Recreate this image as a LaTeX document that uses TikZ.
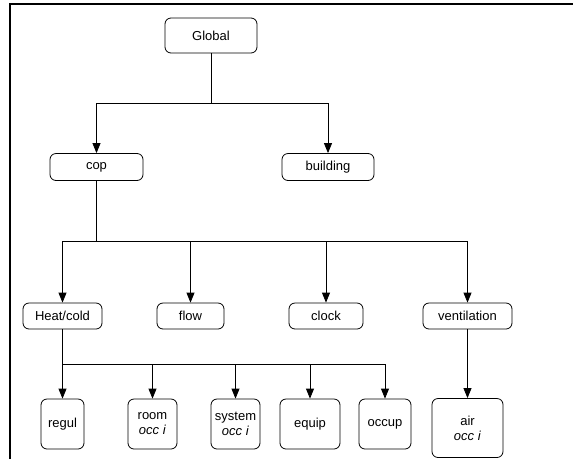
\documentclass[tikz,border=0pt]{standalone}
\usepackage{fontspec}
\setmainfont{Liberation Sans}
\usetikzlibrary{arrows.meta,positioning}

\tikzset{
  box/.style={draw, rounded corners=6pt, inner sep=0pt, align=center,
              font=\fontsize{13}{15}\selectfont, line width=0.8pt},
  link/.style={line width=0.8pt},
  arr/.style={link, -{Triangle[width=8pt,length=10pt]}}
}

\begin{document}
\begin{tikzpicture}[x=1pt,y=-1pt]
            \useasboundingbox (0,0) rectangle (573,459);
            % frame
            \draw [line width=2pt] (10,459) -- (10,4) -- (573,4);
            % top levels
            \node[box, minimum width=92pt, minimum height=35pt] (global)   at (211,35.5) {Global};
            \node[box, minimum width=93pt, minimum height=27pt] (cop)      at (96.5,167) {cop};
            \node[box, minimum width=92pt, minimum height=27pt] (building) at (328,167)  {building};
            % second level
            \node[box, minimum width=79pt, minimum height=26pt] (heat)  at (62.5,316)  {Heat/cold};
            \node[box, minimum width=67pt, minimum height=26pt] (flow)  at (190.5,316) {flow};
            \node[box, minimum width=74pt, minimum height=26pt] (clock) at (326,316)   {clock};
            \node[box, minimum width=89pt, minimum height=26pt] (vent)  at (467.5,316) {ventilation};
            % third level
            \node[box, minimum width=43pt, minimum height=50pt] (regul)  at (62.5,424)  {regul};
            \node[box, minimum width=49pt, minimum height=50pt] (room)   at (152.5,424) {room\\\textit{occ i}};
            \node[box, minimum width=49pt, minimum height=50pt] (system) at (235.5,424) {system\\\textit{occ i}};
            \node[box, minimum width=60pt, minimum height=50pt] (equip)  at (310,424)   {equip};
            \node[box, minimum width=52pt, minimum height=50pt] (occup)  at (385,424)   {occup};
            \node[box, minimum width=71pt, minimum height=59pt] (air)    at (467.5,428) {air\\\textit{occ i}};
            % junctions
            \coordinate (j1) at (211,103);
            \coordinate (j2) at (96.5,241);
            \coordinate (j3) at (62.5,364);
            % connectors
            \draw[link] (global) -- (j1);
            \draw[arr] (j1) -| (cop);
            \draw[arr] (j1) -| (building);
            \draw[link, line width=1.4pt] (cop) -- (j2);
            \foreach \n in {heat,flow,clock,vent}
              \draw[arr] (j2) -| (\n);
            \draw[link, line width=1.4pt] (heat) -- (j3);
            \foreach \n in {regul,room,system,equip,occup}
              \draw[arr] (j3) -| (\n);
            \draw[arr] (vent) -- (air);
\end{tikzpicture}
\end{document}
